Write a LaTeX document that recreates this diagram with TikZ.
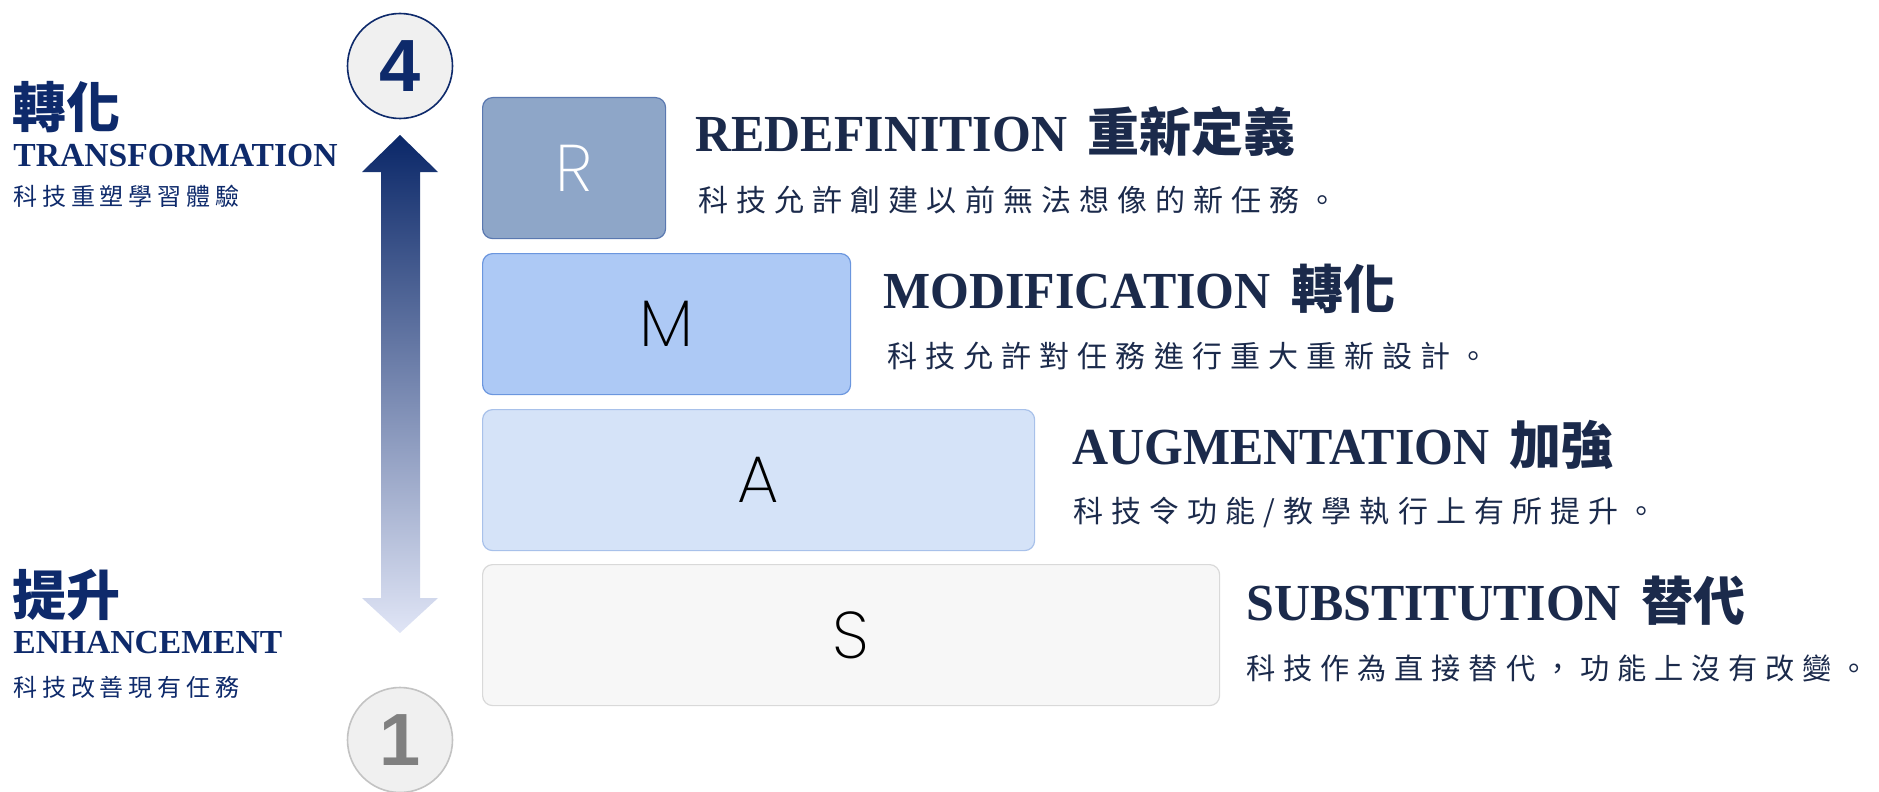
\documentclass[tikz,border=0pt]{standalone}
\usepackage{fontspec}
\setmainfont{Liberation Serif}
\newfontfamily\headfont{Liberation Serif}[FakeStretch=0.96]
\newfontfamily\cjk{Noto Sans CJK TC}
\newfontfamily\cjkwide{Noto Sans CJK TC}[LetterSpace=27]
\newfontfamily\cjkside{Noto Sans CJK TC}[LetterSpace=20]
\newfontfamily\letterfont{Poppins ExtraLight}
\newfontfamily\digitfont{Liberation Sans}

\definecolor{navy}{HTML}{0E2A6B}
\definecolor{headnavy}{HTML}{1B2A4B}
\definecolor{rfill}{HTML}{8EA6C8}
\definecolor{rline}{HTML}{5A78B0}
\definecolor{mfill}{HTML}{ADC9F5}
\definecolor{mline}{HTML}{6B96DE}
\definecolor{afill}{HTML}{D5E3F8}
\definecolor{aline}{HTML}{A8C1EA}
\definecolor{sfill}{HTML}{F7F7F7}
\definecolor{sline}{HTML}{D9D9D9}
\definecolor{arrowtop}{HTML}{0A2768}
\definecolor{arrowbot}{HTML}{E0E5F6}
\definecolor{circfill}{HTML}{F0F0F0}

\begin{document}
\begin{tikzpicture}
[x=0.5pt, y=-0.5pt,
 rung/.style={draw, rounded corners=5pt, line width=0.6pt, anchor=north west,
   minimum height=70.5pt, inner sep=0pt, font=\letterfont\fontsize{33}{33}\selectfont},
 head/.style={anchor=base west, inner sep=0pt, text=headnavy,
   font=\headfont\bfseries\fontsize{26}{26}\selectfont},
 note/.style={anchor=west, inner sep=0pt, text=headnavy,
   font=\cjkwide\fontsize{15}{15}\selectfont},
 side/.style={anchor=west, inner sep=0pt, text=navy,
   font=\cjk\bfseries\fontsize{27}{27}\selectfont},
 sideen/.style={anchor=base west, inner sep=0pt, text=navy,
   font=\bfseries\fontsize{16.8}{16.8}\selectfont},
 sidenote/.style={anchor=west, inner sep=0pt, text=navy,
   font=\cjkside\fontsize{12}{12}\selectfont},
 badge/.style={circle, minimum size=52.5pt, inner sep=0pt, fill=circfill,
   line width=0.8pt, font=\digitfont\bfseries\fontsize{37}{37}\selectfont}]
\useasboundingbox (0,0) rectangle (1879,792);

% double arrow between the two levels
\shade[top color=arrowtop, bottom color=arrowbot]
  (400,135) -- (438,172) -- (420,172) -- (420,598) -- (438,598) -- (400,633)
  -- (362,598) -- (381,598) -- (381,172) -- (362,172) -- cycle;

\node (four) [badge, draw=navy, text=navy] at (400,66) {4};
\node (one) [badge, draw=sline!90!black, text=black!50] at (400,740) {1};

% left side labels
\node (trans) [side] at (12,107) {轉化};
\node (transen) [sideen] at (13,166) {TRANSFORMATION};
\node (transnote) [sidenote] at (13,196) {科技重塑學習體驗};
\node (enh) [side] at (12,595) {提升};
\node (enhen) [sideen] at (13,653) {ENHANCEMENT};
\node (enhnote) [sidenote] at (13,687) {科技改善現有任務};

% the four steps
\node (R) [rung, fill=rfill, draw=rline, text=white, minimum width=91.5pt] at (482,97) {R};
\node (M) [rung, fill=mfill, draw=mline, minimum width=184pt] at (482,253) {M};
\node (A) [rung, fill=afill, draw=aline, minimum width=276pt] at (482,409) {A};
\node (S) [rung, fill=sfill, draw=sline, minimum width=368.5pt] at (482,564) {S};

\node (Rhead) [head] at (695,152) {REDEFINITION\hspace{4pt} {\cjk 重新定義}};
\node (Rnote) [note] at (698,200) {科技允許創建以前無法想像的新任務。};
\node (Mhead) [head] at (883,308) {MODIFICATION\hspace{4pt} {\cjk 轉化}};
\node (Mnote) [note] at (887,356) {科技允許對任務進行重大重新設計。};
\node (Ahead) [head] at (1072,464) {AUGMENTATION\hspace{4pt} {\cjk 加強}};
\node (Anote) [note] at (1073,512) {科技令功能/教學執行上有所提升。};
\node (Shead) [head] at (1246,620) {SUBSTITUTION\hspace{4pt} {\cjk 替代}};
\node (Snote) [note, font=\cjkwide\fontsize{14.6}{14.6}\selectfont] at (1246,668)
  {科技作為直接替代，功能上沒有改變。\kern-5pt};
\end{tikzpicture}
\end{document}
